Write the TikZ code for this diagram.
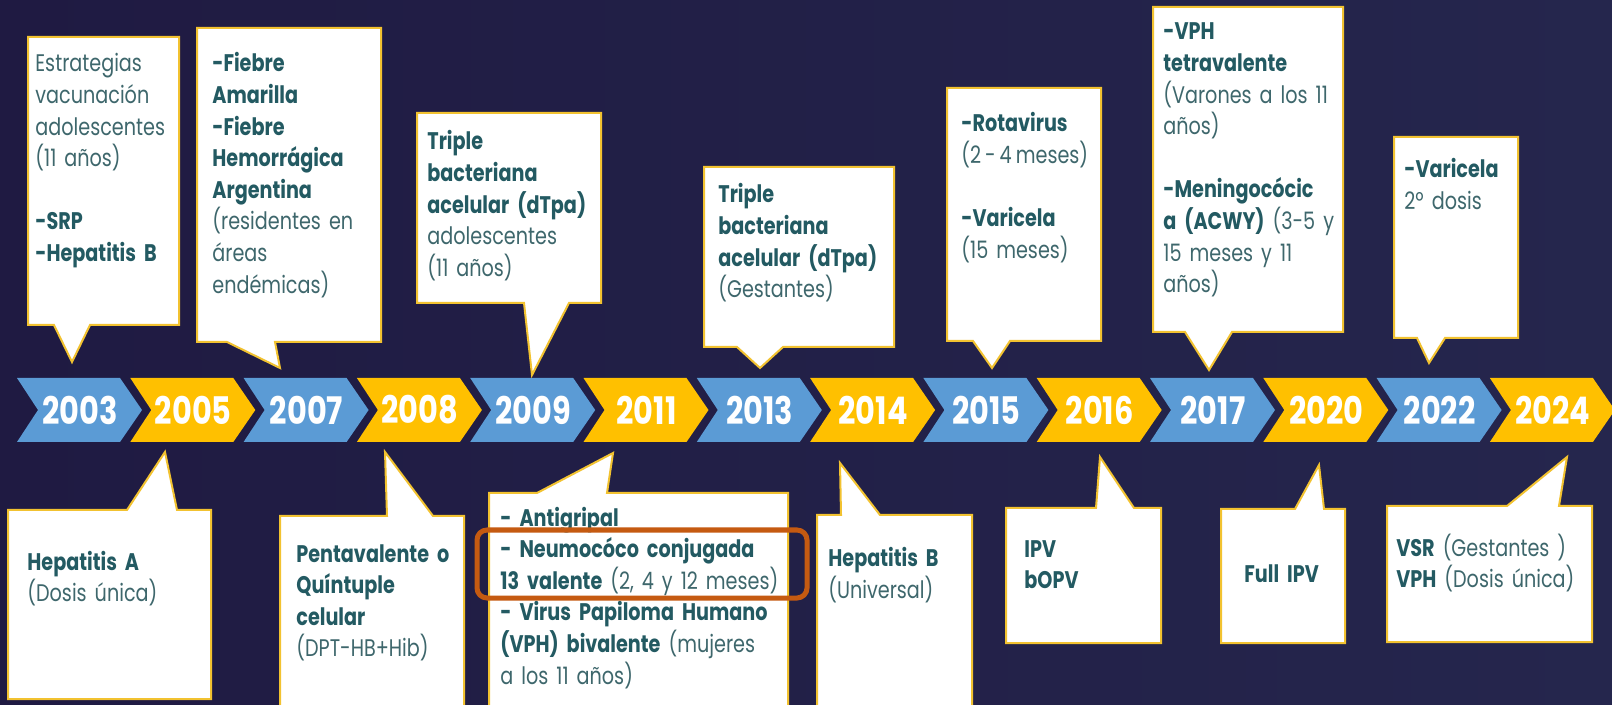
\documentclass[tikz,border=0pt]{standalone}
\usepackage{fontspec}
\setmainfont{Poppins}[FakeStretch=0.8]
\definecolor{bgL}{HTML}{1F1A42}
\definecolor{bgR}{HTML}{25264D}
\definecolor{cblue}{HTML}{5B9BD5}
\definecolor{cyel}{HTML}{FFC000}
\definecolor{cbord}{HTML}{F2C230}
\definecolor{tbold}{HTML}{235A62}
\definecolor{tnorm}{HTML}{3E676C}
\definecolor{corange}{HTML}{C55A11}
\newcommand\bld[1]{{\bfseries\color{tbold}#1}}
\newcommand\topcall[8]{\filldraw[callout] (#1,#3) -- (#2,#3) -- (#2,#4) -- (#6,#4) -- (#7,#8) -- (#5,#4) -- (#1,#4) -- cycle;}
\newcommand\botcall[8]{\filldraw[callout] (#1,#4) -- (#1,#3) -- (#5,#3) -- (#7,#8) -- (#6,#3) -- (#2,#3) -- (#2,#4) -- cycle;}
\tikzset{
  callout/.style={fill=white, draw=cbord, line width=1pt, line join=miter},
  txt/.style={inner sep=0pt, anchor=base west, text width=#1, align=left,
    font=\fontsize{12}{15.8}\selectfont, text=tnorm},
  yr/.style={inner sep=0pt, text=white, font=\fontsize{19}{19}\selectfont\bfseries},
  chev/.style={fill=#1}
}
\begin{document}
\begin{tikzpicture}[x=0.5pt,y=-0.5pt]
\useasboundingbox (0,0) rectangle (1612,705);
\clip (0,0) rectangle (1612,705);
\shade[left color=bgL, right color=bgR] (0,0) rectangle (1612,705);

% timeline chevrons
\foreach \i/\yr/\c in {0/2003/cblue,1/2005/cyel,2/2007/cblue,3/2008/cyel,4/2009/cblue,5/2011/cyel,6/2013/cblue,7/2014/cyel,8/2015/cblue,9/2016/cyel,10/2017/cblue,11/2020/cyel,12/2022/cblue,13/2024/cyel}{
  \pgfmathsetmacro\L{17+113.3*\i}
  \fill[chev=\c] (\L,378) -- ++(103,0) -- ++(22,32) -- ++(-22,32) -- ++(-103,0) -- ++(21,-32) -- cycle;
  \node[yr] (y\yr) at (\L+63,410) {\yr};
}

% top callouts
\topcall{28}{179}{37}{325}{54}{90}{72}{362}
\node[txt=72pt] (t2003) at (35,72) {Estrategias\\ vacunación\\ adolescentes\\ (11 años)\\ ~\\ \bld{-SRP}\\ \bld{-Hepatitis B}};

\topcall{197}{381}{28}{342}{227}{275}{280}{368}
\node[txt=82pt] (t2007) at (212,72) {\bld{-Fiebre}\\ \bld{Amarilla}\\ \bld{-Fiebre}\\ \bld{Hemorrágica}\\ \bld{Argentina}\\ (residentes en\\ áreas\\ endémicas)};

\topcall{417}{601}{113}{303}{524}{569}{532}{375}
\node[txt=86pt] (t2009) at (427,150) {\bld{Triple}\\ \bld{bacteriana}\\ \bld{acelular (dTpa)}\\ adolescentes\\ (11 años)};

\topcall{704}{894}{167}{347}{737}{783}{760}{368}
\node[txt=86pt] (t2013) at (718,203) {\bld{Triple}\\ \bld{bacteriana}\\ \bld{acelular (dTpa)}\\ (Gestantes)};

\topcall{947}{1101}{88}{341}{973}{1010}{992}{368}
\node[txt=68pt] (t2015) at (961,132) {\bld{-Rotavirus}\\ \mbox{(2\,-\,4\,meses)}\\ ~\\ \bld{-Varicela}\\ (15 meses)};

\topcall{1153}{1343}{7}{332}{1185}{1232}{1209}{370}
\node[txt=86pt] (t2017) at (1163,40) {\bld{-VPH}\\ \bld{tetravalente}\\ (Varones a los 11\\ años)\\ ~\\ \bld{-Meningocócic}\\ \bld{a (ACWY)} (3-5 y\\ 15 meses y 11\\ años)};

\topcall{1394}{1518}{137}{338}{1417}{1445}{1429}{363}
\node[txt=54pt] (t2022) at (1404,178) {\bld{-Varicela}\\ 2º dosis};

% bottom callouts
\botcall{8}{211}{510}{699}{127}{177}{165}{452}
\node[txt=88pt] (b2005) at (27,570) {\bld{Hepatitis A}\\ (Dosis única)};

\botcall{280}{464}{516}{712}{387}{433}{385}{452}
\node[txt=82pt] (b2008) at (296,562) {\bld{Pentavalente o}\\ \bld{Quíntuple}\\ \bld{celular}\\ (DPT-HB+Hib)};

\botcall{489}{788}{493}{712}{537}{607}{613}{453}
\node[txt=142pt] (b2011) at (500,526) {\bld{- Antigripal}\\ \bld{- Neumocóco conjugada}\\ \bld{13 valente} (2, 4 y 12 meses)\\ \bld{- Virus Papiloma Humano}\\ \bld{(VPH) bivalente} (mujeres\\ a los 11 años)};
\draw[corange, line width=2.5pt, rounded corners=5pt] (477,530) rectangle (807,598);

\botcall{817}{972}{515}{712}{841}{880}{840}{463}
\node[txt=70pt] (b2014) at (828,567) {\bld{Hepatitis B}\\ (Universal)};

\botcall{1006}{1161}{508}{643}{1096}{1134}{1100}{457}
\node[txt=66pt] (b2016) at (1024,557) {\bld{IPV}\\ \bld{bOPV}};

\botcall{1221}{1345}{509}{643}{1295}{1324}{1319}{465}
\node[txt=48pt] (b2020) at (1244,582) {\bld{Full IPV}};

\botcall{1387}{1592}{506}{642}{1507}{1559}{1567}{457}
\node[txt=96pt] (b2024) at (1396,556) {\bld{VSR} (Gestantes )\\ \bld{VPH} (Dosis única)};
\end{tikzpicture}
\end{document}
